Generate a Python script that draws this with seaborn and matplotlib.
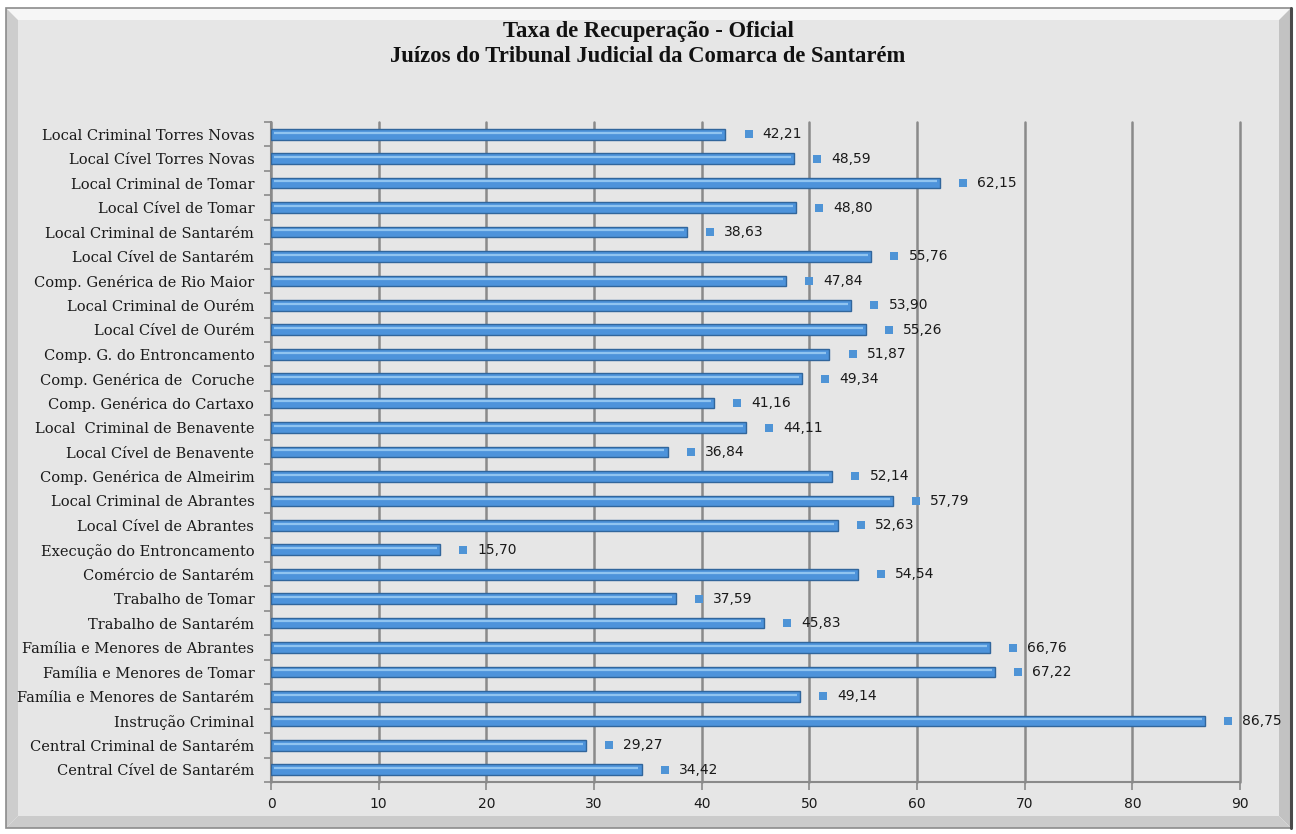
import numpy as np
import pandas as pd
import matplotlib
matplotlib.use("Agg")
import matplotlib.pyplot as plt
import seaborn as sns
from matplotlib.patches import Polygon

categories = [
    "Local Criminal Torres Novas",
    "Local Cível Torres Novas",
    "Local Criminal de Tomar",
    "Local Cível de Tomar",
    "Local Criminal de Santarém",
    "Local Cível de Santarém",
    "Comp. Genérica de Rio Maior",
    "Local Criminal de Ourém",
    "Local Cível de Ourém",
    "Comp. G. do Entroncamento",
    "Comp. Genérica de  Coruche",
    "Comp. Genérica do Cartaxo",
    "Local  Criminal de Benavente",
    "Local Cível de Benavente",
    "Comp. Genérica de Almeirim",
    "Local Criminal de Abrantes",
    "Local Cível de Abrantes",
    "Execução do Entroncamento",
    "Comércio de Santarém",
    "Trabalho de Tomar",
    "Trabalho de Santarém",
    "Família e Menores de Abrantes",
    "Família e Menores de Tomar",
    "Família e Menores de Santarém",
    "Instrução Criminal",
    "Central Criminal de Santarém",
    "Central Cível de Santarém",
]
values = [42.21, 48.59, 62.15, 48.80, 38.63, 55.76, 47.84, 53.90, 55.26, 51.87,
          49.34, 41.16, 44.11, 36.84, 52.14, 57.79, 52.63, 15.70, 54.54, 37.59,
          45.83, 66.76, 67.22, 49.14, 86.75, 29.27, 34.42]
x_ticks = [0, 10, 20, 30, 40, 50, 60, 70, 80, 90]
title_line1 = "Taxa de Recuperação - Oficial"
title_line2 = "Juízos do Tribunal Judicial da Comarca de Santarém"

sns.set_style("white")
plt.rcParams["font.family"] = ["DejaVu Sans"]

W, H = 1296, 834
fig = plt.figure(figsize=(W / 100, H / 100), dpi=100)
fig.patch.set_facecolor("white")


def fp(x, y):
    return (x / W, 1 - y / H)


# bevelled panel
x0, x1, y0, y1 = 6, 1291, 8, 828
b = 12
xi0, xi1, yi0, yi1 = x0 + b, x1 - b, y0 + b, y1 - b
polys = [
    ([(x0, y0), (x1, y0), (xi1, yi0), (xi0, yi0)], "#f6f6f6"),
    ([(x0, y0), (xi0, yi0), (xi0, yi1), (x0, y1)], "#cdcdcd"),
    ([(x1, y0), (x1, y1), (xi1, yi1), (xi1, yi0)], "#c2c2c2"),
    ([(x0, y1), (x1, y1), (xi1, yi1), (xi0, yi1)], "#cbcbcb"),
    ([(xi0, yi0), (xi1, yi0), (xi1, yi1), (xi0, yi1)], "#e6e6e6"),
]
for pts, col in polys:
    fig.add_artist(Polygon([fp(*p) for p in pts], closed=True, facecolor=col,
                           edgecolor="none", transform=fig.transFigure, zorder=-5))
fig.add_artist(Polygon([fp(x0, y0), fp(x1, y0), fp(x1, y1), fp(x0, y1)], closed=True,
                       facecolor="none", edgecolor="#8c8c8c", lw=1.2,
                       transform=fig.transFigure, zorder=-4))
fig.add_artist(plt.Line2D([fp(x1, 0)[0]] * 2, [fp(0, y0)[1], fp(0, y1)[1]],
                          color="#4a4a4a", lw=2.2, transform=fig.transFigure, zorder=-3))

ax = fig.add_axes([271 / W, 1 - 782 / H, 969 / W, 660 / H])
ax.set_facecolor("none")

df = pd.DataFrame({"cat": categories, "val": values})
sns.barplot(data=df, y="cat", x="val", orient="h", color="#4d93db", width=0.44,
            edgecolor="#31669c", linewidth=1.0, saturation=1, ax=ax, zorder=3)

pos = np.arange(len(categories))
vals = np.array(values)
ax.hlines(pos - 0.07, 0.25, vals - 0.3, color="#90c4f0", lw=1.6, zorder=4)
ax.scatter(vals + 2.14, pos, marker="s", s=30, color="#4f94d6", zorder=5, linewidths=0)
for p, v in zip(pos, vals):
    ax.text(v + 3.45, p, f"{v:.2f}".replace(".", ","), va="center", ha="left",
            fontsize=10, color="#1a1a1a", zorder=6)

ax.set_xlim(0, 90)
ax.set_xticks(x_ticks)
ax.set_xticklabels([str(t) for t in x_ticks])
ax.xaxis.grid(True, color="#8a8a8a", lw=1.8)
for gl in ax.get_xgridlines():
    gl.set_clip_on(False)
ax.yaxis.grid(False)
ax.set_axisbelow(True)
for s in ["top", "right"]:
    ax.spines[s].set_visible(False)
for s in ["left", "bottom"]:
    ax.spines[s].set_color("#8a8a8a")
    ax.spines[s].set_linewidth(1.5)
ax.tick_params(axis="x", length=6, width=1.2, color="#8a8a8a", pad=5,
               labelsize=10, labelcolor="#1a1a1a", bottom=True)
ax.tick_params(axis="y", which="major", length=0, pad=12, labelsize=10.5,
               labelcolor="#1a1a1a")
ax.set_yticks(np.arange(len(categories) + 1) - 0.5, minor=True)
ax.tick_params(axis="y", which="minor", length=5, width=1.2, color="#8a8a8a", left=True)
for lab in ax.get_yticklabels():
    lab.set_family("DejaVu Serif")
ax.set_ylim(len(categories) - 0.5, -0.5)
ax.set_xlabel("")
ax.set_ylabel("")

fig.text(0.5, 1 - 32 / H, title_line1, ha="center", va="center", fontsize=16.3,
         fontweight="bold", family="Liberation Serif", color="#111111")
fig.text(0.5, 1 - 57 / H, title_line2, ha="center", va="center", fontsize=16.3,
         fontweight="bold", family="Liberation Serif", color="#111111")

fig.savefig("out.png", dpi=100, facecolor=fig.get_facecolor())
